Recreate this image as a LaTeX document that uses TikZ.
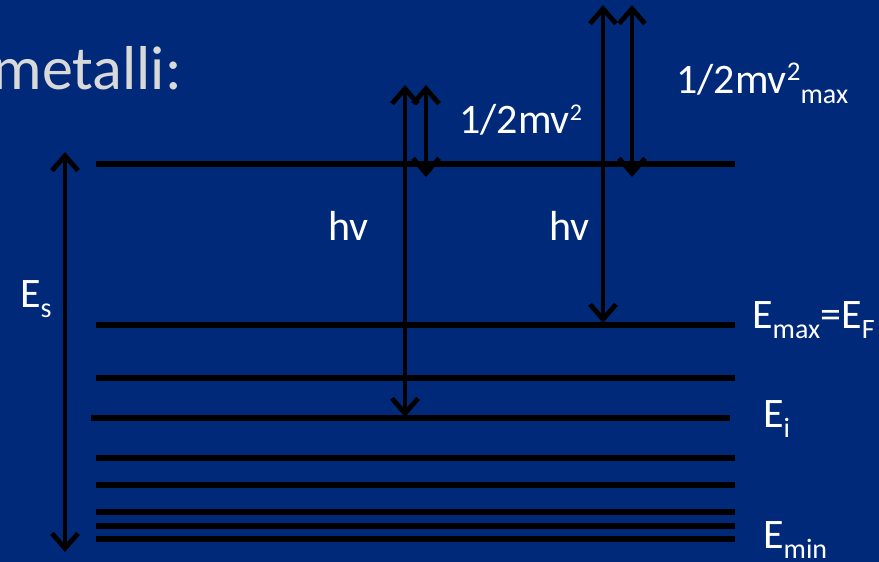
\documentclass[tikz,border=0pt]{standalone}
\usepackage{fontspec}
\setmainfont{Carlito}
\usetikzlibrary{arrows.meta}
\definecolor{bg}{RGB}{0,41,122}
\definecolor{titlegray}{RGB}{217,217,217}
\newcommand{\lbsub}[1]{\raisebox{-10pt}{\fontsize{28}{28}\selectfont #1}}
\newcommand{\lbsupa}[1]{\raisebox{13pt}{\fontsize{24}{24}\selectfont #1}}
\newcommand{\lbsupb}[1]{\raisebox{13pt}{\fontsize{27}{27}\selectfont #1}}
\begin{document}
\begin{tikzpicture}[x=1pt,y=-1pt,
  level/.style={line width=5.2pt},
  dblarrow/.style={line width=4.8pt, line join=round, line cap=round,
    {Straight Barb[length=15pt,width=26pt]}-{Straight Barb[length=15pt,width=26pt]}},
  lbl/.style={text=white, font=\fontsize{42}{42}\selectfont, inner sep=0pt, anchor=base west},
  title/.style={text=titlegray, font=\fontsize{62}{62}\selectfont, inner sep=0pt, anchor=base east}]
\fill[bg] (0,0) rectangle (879,562);
\useasboundingbox (0,0) rectangle (879,562);
% energy levels
\foreach \n/\y/\xa/\xb in {1/164/96/735, 2/325/96/735, 3/378/96/735, 4/418/91/730,
  5/458/96/735, 6/485/96/735, 7/512/96/735, 8/526/96/735, 9/539/96/735}{
  \coordinate (La\n) at (\xa,\y);
  \coordinate (Lb\n) at (\xb,\y);
  \draw[level] (La\n) -- (Lb\n);
}
% arrow end points
\coordinate (EsTop) at (65,152);
\coordinate (EsBot) at (65,552);
\coordinate (HvATop) at (405,85);
\coordinate (HvABot) at (405,417);
\coordinate (KaTop) at (426,85);
\coordinate (KaBot) at (426,177);
\coordinate (HvBTop) at (603,5);
\coordinate (HvBBot) at (603,323);
\coordinate (KbTop) at (632,5);
\coordinate (KbBot) at (632,177);
\draw[dblarrow] (EsTop) -- (EsBot);
\draw[dblarrow] (HvATop) -- (HvABot);
\draw[dblarrow] (KaTop) -- (KaBot);
\draw[dblarrow] (HvBTop) -- (HvBBot);
\draw[dblarrow] (KbTop) -- (KbBot);
% labels
\node[title] (ttl) at (182,89) {metalli:};
\node[lbl] (es) at (20,307) {E\lbsub{s}};
\node[lbl] (hva) at (328,240) {hv};
\node[lbl] (hvb) at (549,240) {hv};
\node[lbl] (ka) at (459,133) {1/2mv\lbsupa{2}};
\node[lbl] (kb) at (676,93) {1/2mv\lbsupb{2}\lbsub{max}};
\node[lbl] (ef) at (752,328) {E\lbsub{max}=E\lbsub{F}};
\node[lbl] (ei) at (763,427) {E\lbsub{i}};
\node[lbl] (emin) at (763,548) {E\lbsub{min}};
\end{tikzpicture}
\end{document}
